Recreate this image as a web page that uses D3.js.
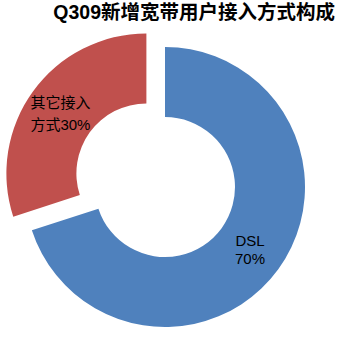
<!DOCTYPE html>
<html>
<head>
<meta charset="utf-8">
<script src="https://cdn.jsdelivr.net/npm/d3@7"></script>
<style>
  body { margin: 0; background: #fff; }
  text { font-family: "Liberation Sans", Arial, "Noto Sans CJK SC", sans-serif; }
</style>
</head>
<body>
<div id="chart"></div>
<script>
const categories = ["DSL", "其它接入方式"];
const values = [70, 30];
const labelLines = [["DSL", "70%"], ["其它接入", "方式30%"]];
const colors = ["#4F81BD", "#C0504D"];
const titleText = "Q309新增宽带用户接入方式构成";

const svgParams = {
    width: 341,
    height: 339,
    cx: 165,
    cy: 187,
    outer: 140,
    inner: 70,
    explode: 23
};

const svg = d3.select("#chart")
    .append("svg")
    .attr("width", svgParams.width)
    .attr("height", svgParams.height);

svg.append("text")
    .attr("x", 335)
    .attr("y", 19)
    .attr("text-anchor", "end")
    .attr("font-size", "19.5px")
    .attr("font-weight", "bold")
    .attr("fill", "#000")
    .text(titleText);

const pie = d3.pie().sort(null).value(d => d.value);
const arc = d3.arc().innerRadius(svgParams.inner).outerRadius(svgParams.outer);

const data = categories.map((c, i) => ({name: c, value: values[i], lines: labelLines[i], color: colors[i]}));

const g = svg.append("g")
    .attr("transform", `translate(${svgParams.cx},${svgParams.cy})`);

const slices = g.selectAll(".slice")
    .data(pie(data))
    .enter().append("g")
    .attr("class", "slice")
    .attr("transform", (d, i) => {
        if (i === 0) return null;
        const mid = (d.startAngle + d.endAngle) / 2;
        return `translate(${Math.sin(mid) * svgParams.explode},${-Math.cos(mid) * svgParams.explode})`;
    });

slices.append("path")
    .attr("d", arc)
    .attr("fill", d => d.data.color);

// label positions relative to each slice group
const labelPos = [{x: 85, y: 59, anchor: "middle", lh: 18}, {x: -116, y: -65, anchor: "start", lh: 22}];

slices.append("text")
    .attr("text-anchor", (d, i) => labelPos[i].anchor)
    .attr("font-size", "15px")
    .attr("fill", "#000")
    .each(function(d, i) {
        const t = d3.select(this);
        d.data.lines.forEach((line, j) => {
            t.append("tspan")
                .attr("x", labelPos[i].x)
                .attr("y", labelPos[i].y + j * labelPos[i].lh)
                .text(line);
        });
    });
</script>
</body>
</html>
